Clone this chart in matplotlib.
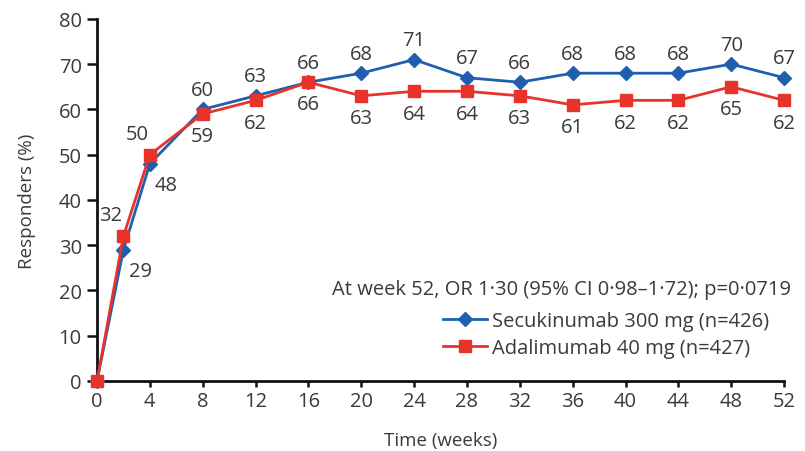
import matplotlib
matplotlib.use("Agg")
import matplotlib.pyplot as plt

weeks = [0, 2, 4, 8, 12, 16, 20, 24, 28, 32, 36, 40, 44, 48, 52]
secukinumab = [0, 29, 48, 60, 63, 66, 68, 71, 67, 66, 68, 68, 68, 70, 67]
adalimumab = [0, 32, 50, 59, 62, 66, 63, 64, 64, 63, 61, 62, 62, 65, 62]
xticks = [0, 4, 8, 12, 16, 20, 24, 28, 32, 36, 40, 44, 48, 52]
yticks = [0, 10, 20, 30, 40, 50, 60, 70, 80]

plt.rcParams['font.family'] = ['Open Sans', 'DejaVu Sans']
TXT = '#3a3a3a'
BLUE = '#1f5fae'
RED = '#e8332a'
FS = 14.5

fig = plt.figure(figsize=(8.05, 4.52), dpi=100)
ax = fig.add_axes([0.1205, 0.155, 0.8535, 0.801])

ax.plot(weeks, secukinumab, color=BLUE, lw=2, marker='D', ms=7.5, mec=BLUE, mfc=BLUE,
        clip_on=False, zorder=3, label='Secukinumab 300 mg (n=426)')
ax.plot(weeks, adalimumab, color=RED, lw=2, marker='s', ms=8.5, mec=RED, mfc=RED,
        clip_on=False, zorder=4, label='Adalimumab 40 mg (n=427)')

for w, s, a in zip(weeks, secukinumab, adalimumab):
    if w == 0:
        continue
    if w in (2, 4):
        ax.annotate(str(a), (w, a), xytext=(-9, 15), textcoords='offset points',
                    ha='center', va='center', fontsize=FS, color=TXT)
        ax.annotate(str(s), (w, s), xytext=(12, -15), textcoords='offset points',
                    ha='center', va='center', fontsize=FS, color=TXT)
    else:
        ax.annotate(str(s), (w, s), xytext=(0, 14), textcoords='offset points',
                    ha='center', va='center', fontsize=FS, color=TXT)
        ax.annotate(str(a), (w, a), xytext=(0, -16), textcoords='offset points',
                    ha='center', va='center', fontsize=FS, color=TXT)

ax.set_xlim(0, 52)
ax.set_ylim(0, 80)
ax.set_xticks(xticks)
ax.set_yticks(yticks)
for sp in ('top', 'right'):
    ax.spines[sp].set_visible(False)
for sp in ('left', 'bottom'):
    ax.spines[sp].set_linewidth(2)
    ax.spines[sp].set_color('#111111')
ax.tick_params(axis='both', direction='out', width=1.8, color='#111111',
               labelsize=FS, labelcolor=TXT)
ax.tick_params(axis='y', length=7, pad=4)
ax.tick_params(axis='x', length=4, pad=3)

ax.set_xlabel('Time (weeks)', fontsize=13.5, color=TXT, labelpad=15)
ax.set_ylabel('Responders (%)', fontsize=13.5, color=TXT, labelpad=16)

fig.text(0.982, 0.358, 'At week 52, OR 1·30 (95% CI 0·98–1·72); p=0·0719',
         ha='right', va='center', fontsize=FS, color=TXT)

ax.legend(loc='lower right', bbox_to_anchor=(0.99, 0.04), frameon=False,
          fontsize=FS, handlelength=2.2, handletextpad=0.25, labelspacing=0.38,
          labelcolor=TXT, borderaxespad=0)

fig.savefig('out.png', dpi=100)
